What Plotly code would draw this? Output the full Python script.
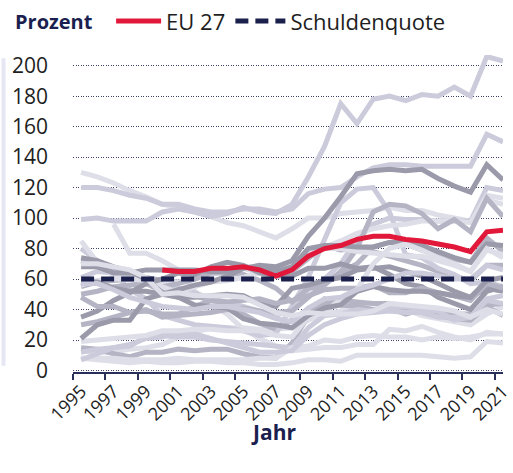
import plotly.graph_objects as go

years = [str(y) for y in range(1995, 2022)]

countries = {
    "Belgien":      [130, 127, 123, 118, 114, 109, 107, 104, 101, 97, 95, 91, 87, 93, 100, 100, 103, 104, 105, 107, 105, 105, 102, 100, 98, 112, 109],
    "Bulgarien":    [None, None, 96, 77, 77, 72, 66, 52, 44, 37, 27, 21, 16, 13, 14, 15, 15, 17, 17, 27, 26, 29, 25, 22, 20, 25, 24],
    "Tschechien":   [13, 12, 12, 14, 15, 17, 22, 25, 28, 28, 28, 27, 27, 28, 33, 37, 39, 44, 44, 42, 40, 36, 34, 32, 30, 37, 42],
    "Dänemark":     [72, 69, 65, 61, 57, 52, 49, 49, 46, 44, 37, 31, 27, 33, 40, 43, 46, 45, 44, 44, 40, 38, 36, 34, 33, 42, 36],
    "Deutschland":  [55, 58, 59, 60, 61, 59, 58, 60, 64, 65, 67, 66, 64, 65, 73, 82, 79, 80, 78, 75, 72, 69, 65, 62, 59, 69, 69],
    "Estland":      [8, 7, 6, 5, 6, 5, 5, 6, 6, 5, 5, 4, 4, 5, 7, 7, 6, 10, 10, 10, 10, 10, 9, 8, 9, 19, 18],
    "Irland":       [80, 72, 64, 53, 47, 36, 33, 30, 29, 28, 26, 23, 24, 42, 61, 86, 110, 119, 120, 104, 76, 74, 67, 63, 57, 58, 55],
    "Griechenland": [99, 100, 98, 98, 98, 104, 106, 104, 101, 103, 107, 104, 103, 109, 127, 147, 175, 162, 178, 180, 177, 181, 180, 186, 180, 206, 203],
    "Spanien":      [61, 65, 64, 62, 60, 58, 54, 51, 47, 45, 42, 39, 36, 40, 53, 60, 70, 86, 96, 100, 99, 99, 98, 98, 98, 120, 118],
    "Frankreich":   [56, 59, 60, 60, 59, 58, 58, 60, 64, 65, 67, 64, 64, 68, 79, 81, 85, 90, 93, 95, 96, 98, 98, 98, 97, 115, 113],
    "Kroatien":     [30, 32, 35, 38, 40, 35, 36, 37, 38, 40, 41, 39, 38, 39, 48, 57, 64, 70, 81, 84, 83, 79, 76, 73, 71, 87, 78],
    "Italien":      [120, 120, 118, 115, 113, 109, 109, 106, 104, 104, 106, 106, 104, 106, 116, 119, 120, 127, 133, 135, 135, 134, 134, 134, 134, 155, 150],
    "Zypern":       [50, 52, 55, 56, 57, 55, 57, 60, 64, 64, 63, 59, 54, 45, 54, 56, 65, 80, 104, 109, 108, 103, 93, 99, 91, 113, 101],
    "Lettland":     [15, 14, 11, 9, 12, 12, 14, 13, 14, 14, 11, 9, 8, 18, 36, 47, 43, 42, 40, 41, 37, 40, 39, 37, 37, 43, 44],
    "Litauen":      [12, 14, 15, 16, 22, 23, 22, 22, 20, 19, 18, 17, 16, 15, 28, 36, 37, 40, 39, 41, 42, 40, 39, 33, 35, 46, 44],
    "Luxemburg":    [8, 8, 8, 7, 7, 7, 8, 7, 7, 7, 7, 8, 8, 15, 16, 20, 19, 22, 23, 22, 22, 20, 22, 21, 22, 24, 24],
    "Ungarn":       [85, 71, 62, 60, 59, 55, 51, 55, 58, 59, 61, 64, 65, 71, 77, 80, 80, 78, 77, 76, 75, 75, 72, 69, 65, 79, 76],
    "Malta":        [35, 39, 46, 51, 57, 60, 64, 63, 68, 71, 69, 64, 62, 62, 67, 67, 70, 67, 68, 63, 57, 55, 48, 44, 40, 52, 55],
    "Niederlande":  [74, 72, 68, 65, 60, 51, 48, 48, 49, 50, 49, 44, 42, 54, 56, 59, 61, 66, 67, 68, 65, 62, 57, 52, 48, 54, 52],
    "Österreich":   [68, 68, 64, 64, 66, 66, 66, 66, 65, 65, 68, 67, 65, 68, 80, 82, 82, 81, 81, 84, 84, 82, 78, 74, 71, 83, 82],
    "Polen":        [48, 42, 42, 38, 39, 37, 37, 42, 46, 45, 46, 47, 44, 46, 49, 53, 54, 54, 56, 51, 51, 54, 51, 49, 46, 57, 54],
    "Portugal":     [58, 58, 54, 52, 52, 50, 53, 56, 58, 62, 67, 69, 68, 72, 88, 100, 114, 129, 131, 132, 131, 132, 126, 121, 117, 135, 125],
    "Rumänien":     [7, 11, 15, 17, 21, 22, 25, 24, 21, 18, 15, 12, 12, 13, 23, 30, 34, 37, 38, 39, 38, 38, 35, 35, 35, 47, 49],
    "Slowenien":    [19, 20, 21, 22, 23, 26, 26, 27, 27, 26, 26, 26, 23, 22, 35, 38, 47, 53, 70, 80, 83, 79, 74, 70, 65, 80, 74],
    "Slowakei":     [21, 30, 33, 33, 47, 50, 48, 43, 42, 41, 34, 31, 30, 28, 36, 41, 43, 52, 55, 53, 52, 52, 51, 49, 48, 59, 61],
    "Finnland":     [57, 57, 53, 48, 45, 42, 41, 40, 42, 42, 40, 38, 34, 32, 41, 47, 48, 53, 56, 60, 64, 64, 62, 60, 60, 69, 66],
    "Schweden":     [70, 70, 68, 66, 61, 50, 51, 49, 49, 49, 48, 43, 38, 36, 38, 37, 37, 37, 39, 44, 43, 42, 41, 39, 35, 40, 37],
}

eu27 = [None] * 5 + [66, 65, 65, 67, 67, 68, 66, 62, 66, 75, 80, 82, 86, 88, 88, 86, 85, 83, 81, 78, 91, 92]
schuldenquote = [60] * len(years)

dark = {"Portugal", "Niederlande", "Slowakei", "Malta", "Österreich"}
mid = {"Deutschland", "Polen", "Zypern", "Kroatien", "Dänemark", "Lettland"}
light = {"Griechenland", "Italien", "Spanien", "Irland", "Finnland", "Litauen", "Rumänien"}

fig = go.Figure()

for name, vals in countries.items():
    if name in dark:
        col = "#9a9aab"
    elif name in mid:
        col = "#b4b4c4"
    elif name in light:
        col = "#cbcbdb"
    else:
        col = "#dedee8"
    fig.add_trace(go.Scatter(x=years, y=vals, mode="lines", name=name,
                             line=dict(color=col, width=5), showlegend=False))

fig.add_trace(go.Scatter(x=years, y=eu27, mode="lines", name="EU 27",
                         line=dict(color="#e2183a", width=5), legend="legend"))
fig.add_trace(go.Scatter(x=years, y=schuldenquote, mode="lines", name="Schuldenquote",
                         line=dict(color="#1b1f4b", width=5, dash="13px,7px"),
                         legend="legend2"))

leg_font = dict(size=22, color="#1e1e1e")

fig.update_layout(
    width=513, height=473,
    margin=dict(l=73, r=0, t=52, b=101),
    plot_bgcolor="white", paper_bgcolor="white",
    font=dict(family="Open Sans", size=18, color="#1e1e1e"),
    showlegend=True,
    legend=dict(orientation="h", x=0.0886, y=1.1065, xanchor="left", yanchor="middle",
                itemwidth=45, font=leg_font, bgcolor="rgba(0,0,0,0)"),
    legend2=dict(orientation="h", x=0.366, y=1.1065, xanchor="left", yanchor="middle",
                 itemwidth=50, font=leg_font, bgcolor="rgba(0,0,0,0)"),
    xaxis=dict(type="category", range=[-0.5, 26.0], tickson="boundaries", dtick=2,
               tickangle=-45, tickfont=dict(size=18, color="#1e1e1e"),
               showgrid=False, showline=True, linecolor="#2b2f5c", linewidth=1.5,
               ticks="outside", ticklen=6, tickcolor="#2b2f5c", tickwidth=1.5),
    yaxis=dict(range=[-1, 207], tickvals=list(range(0, 201, 20)),
               tickfont=dict(size=21, color="#1e1e1e"), ticklabelstandoff=24,
               showgrid=True, gridcolor="#3a3f6b", gridwidth=1.3, griddash="1px,1.5px",
               zeroline=False, showline=False),
    annotations=[
        dict(text="<b>Prozent</b>", xref="paper", yref="paper", x=-0.1386, y=1.1065,
             xanchor="left", yanchor="middle", showarrow=False,
             font=dict(size=20, color="#1b1f4f")),
        dict(text="<b>Jahr</b>", xref="paper", yref="paper", x=0.466, y=-0.189,
             xanchor="center", yanchor="middle", showarrow=False,
             font=dict(size=21, color="#1b1f4f")),
    ],
    shapes=[dict(type="rect", xref="paper", yref="paper", x0=-0.166, x1=-0.157,
                 y0=0.02, y1=0.99, fillcolor="#e6e6f4", line=dict(width=0), layer="below")],
)

fig.write_html("out.html", config={"displayModeBar": False},
               post_script="document.body.style.margin='0';")
